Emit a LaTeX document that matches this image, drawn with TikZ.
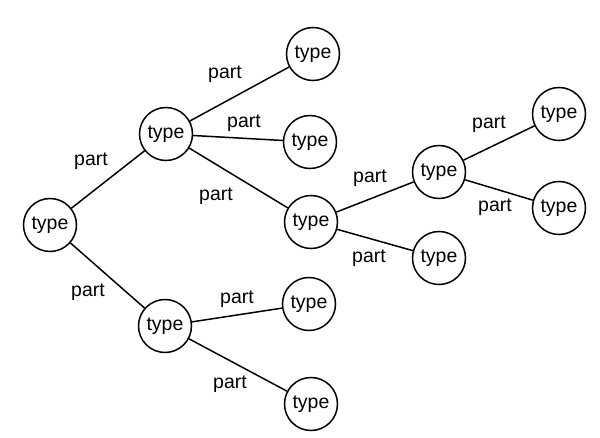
\documentclass[tikz,border=0pt]{standalone}
\usepackage{fontspec}
\setmainfont{Liberation Sans}
\begin{document}
\begin{tikzpicture}[x=1pt,y=-1pt,
  tnode/.style={draw,circle,line width=1.5pt,minimum size=53pt,inner sep=0pt,font=\fontsize{19.5}{23}\selectfont},
  lbl/.style={inner sep=0pt,font=\fontsize{19.5}{23}\selectfont},
  conn/.style={line width=1.5pt}]
\useasboundingbox (0,0) rectangle (600,438);
\node[tnode] (r) at (50,225) {type};
\node[tnode] (a) at (166,134) {type};
\node[tnode] (b) at (165,326) {type};
\node[tnode] (a1) at (313,54) {type};
\node[tnode] (a2) at (310,142) {type};
\node[tnode] (a3) at (311,222) {type};
\node[tnode] (c) at (439,172) {type};
\node[tnode] (c2) at (439,258) {type};
\node[tnode] (c11) at (559,114) {type};
\node[tnode] (c12) at (559,208) {type};
\node[tnode] (b1) at (309,304) {type};
\node[tnode] (b2) at (311,404) {type};
\draw[conn] (r) -- (a);
\draw[conn] (r) -- (b);
\draw[conn] (a) -- (a1);
\draw[conn] (a) -- (a2);
\draw[conn] (a) -- (a3);
\draw[conn] (a3) -- (c);
\draw[conn] (a3) -- (c2);
\draw[conn] (c) -- (c11);
\draw[conn] (c) -- (c12);
\draw[conn] (b) -- (b1);
\draw[conn] (b) -- (b2);
\node[lbl] (l1) at (91,161) {part};
\node[lbl] (l2) at (88,292) {part};
\node[lbl] (l3) at (225,74) {part};
\node[lbl] (l4) at (244,123) {part};
\node[lbl] (l5) at (216,196) {part};
\node[lbl] (l6) at (370,178) {part};
\node[lbl] (l7) at (369,258) {part};
\node[lbl] (l8) at (489,124) {part};
\node[lbl] (l9) at (495,207) {part};
\node[lbl] (l10) at (237,299) {part};
\node[lbl] (l11) at (230,384) {part};
\end{tikzpicture}
\end{document}
